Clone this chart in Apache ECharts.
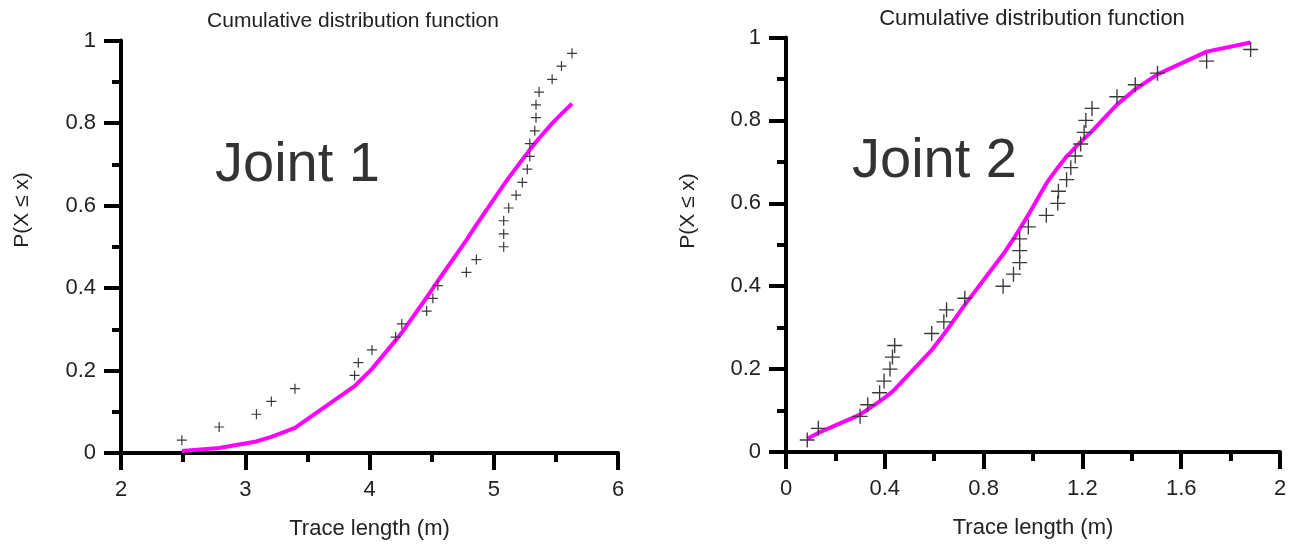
<!DOCTYPE html>
<html>
<head>
<meta charset="utf-8">
<script src="https://cdn.jsdelivr.net/npm/echarts@6/dist/echarts.min.js"></script>
<style>
  html, body { margin: 0; padding: 0; background: #fff; }
  #chart { width: 1296px; height: 547px; }
</style>
</head>
<body>
<div id="chart"></div>
<script>
// Joint 1: observed trace lengths (m) and their empirical CDF
const joint1Length = [2.49, 2.79, 3.09, 3.21, 3.40, 3.88, 3.91, 4.02, 4.21, 4.26, 4.46, 4.51, 4.55, 4.78, 4.86,
  5.08, 5.08, 5.08, 5.12, 5.18, 5.23, 5.27, 5.29, 5.29, 5.33, 5.34, 5.34, 5.365, 5.47, 5.545, 5.63];
const joint1Empirical = [0.031, 0.063, 0.094, 0.125, 0.156, 0.188, 0.219, 0.25, 0.281, 0.313, 0.344, 0.375, 0.406, 0.438, 0.469,
  0.5, 0.531, 0.563, 0.594, 0.625, 0.656, 0.688, 0.719, 0.75, 0.781, 0.813, 0.844, 0.875, 0.906, 0.938, 0.969];
// Joint 1: fitted CDF evaluated at the same lengths
const joint1Fitted = [0.005, 0.012, 0.028, 0.039, 0.061, 0.162, 0.171, 0.204, 0.273, 0.292, 0.377, 0.399, 0.417, 0.516, 0.553,
  0.650, 0.650, 0.650, 0.667, 0.691, 0.711, 0.727, 0.735, 0.735, 0.750, 0.754, 0.754, 0.763, 0.799, 0.822, 0.847];

// Joint 2: observed trace lengths (m) and their empirical CDF
const joint2Length = [0.086, 0.131, 0.30, 0.331, 0.379, 0.397, 0.421, 0.431, 0.44, 0.59, 0.639, 0.65, 0.724, 0.879, 0.921,
  0.946, 0.946, 0.946, 0.981, 1.054, 1.10, 1.103, 1.136, 1.153, 1.171, 1.193, 1.207, 1.214, 1.239, 1.34, 1.414, 1.504, 1.703, 1.881];
const joint2Empirical = [0.029, 0.057, 0.086, 0.114, 0.143, 0.171, 0.2, 0.229, 0.257, 0.286, 0.314, 0.343, 0.371, 0.4, 0.429,
  0.457, 0.486, 0.514, 0.543, 0.571, 0.6, 0.629, 0.657, 0.686, 0.714, 0.743, 0.771, 0.8, 0.829, 0.857, 0.886, 0.914, 0.943, 0.971];
// Joint 2: fitted CDF evaluated at the same lengths
const joint2Fitted = [0.032, 0.046, 0.090, 0.103, 0.122, 0.130, 0.141, 0.146, 0.151, 0.246, 0.284, 0.293, 0.355, 0.477, 0.514,
  0.538, 0.538, 0.538, 0.572, 0.648, 0.686, 0.688, 0.713, 0.723, 0.735, 0.748, 0.756, 0.760, 0.774, 0.838, 0.875, 0.911, 0.966, 0.988];

// Axis ranges and labels
const joint1XRange = { min: 2, max: 6, interval: 1 };
const joint2XRange = { min: 0, max: 2, interval: 0.4 };
const probRange = { min: 0, max: 1, interval: 0.2 };
const titleText = 'Cumulative distribution function';
const xName = 'Trace length (m)';
const yName = 'P(X \u2264 x)';
const panelNames = ['Joint 1', 'Joint 2'];

const FONT = '"Liberation Sans", Arial, sans-serif';
const INK = '#000';
const TEXT = '#222';
const AXIS_W = 4;

function zip(xs, ys) { return xs.map((x, i) => [x, ys[i]]); }

function xAxis(gridIndex, range) {
  return {
    type: 'value', gridIndex, min: range.min, max: range.max, interval: range.interval,
    axisLine: { show: true, onZero: false, lineStyle: { color: INK, width: AXIS_W } },
    axisTick: { show: true, length: 17, lineStyle: { color: INK, width: AXIS_W } },
    minorTick: { show: true, splitNumber: 2, length: 9, lineStyle: { color: INK, width: AXIS_W } },
    splitLine: { show: false },
    axisLabel: { fontSize: 22, color: TEXT, margin: 26, fontFamily: FONT },
    name: xName, nameLocation: 'middle', nameGap: 65,
    nameTextStyle: { fontSize: 22, color: TEXT, fontFamily: FONT }
  };
}

function yAxis(gridIndex) {
  return {
    type: 'value', gridIndex, min: probRange.min, max: probRange.max, interval: probRange.interval,
    axisLine: { show: true, onZero: false, lineStyle: { color: INK, width: AXIS_W } },
    axisTick: { show: true, length: 17, lineStyle: { color: INK, width: AXIS_W } },
    minorTick: { show: true, splitNumber: 2, length: 9, lineStyle: { color: INK, width: AXIS_W } },
    splitLine: { show: false },
    axisLabel: { fontSize: 22, color: TEXT, margin: 25, fontFamily: FONT }
  };
}

// plus-sign marker drawn as two thin bars
const plusSmall = 'path://M4.4,0H5.6V10H4.4Z M0,4.4H10V5.6H0Z';
const plusLarge = 'path://M4.55,0H5.45V10H4.55Z M0,4.55H10V5.45H0Z';

function fitLine(idx, data) {
  return {
    type: 'line', xAxisIndex: idx, yAxisIndex: idx, data, showSymbol: false, smooth: false,
    lineStyle: { color: '#ff00ff', width: 4 }, z: 2
  };
}
function points(idx, data, symbol, size) {
  return {
    type: 'scatter', xAxisIndex: idx, yAxisIndex: idx, data, symbol, symbolSize: size,
    itemStyle: { color: '#3a3a3a', opacity: 1 }, z: 3
  };
}

const chart = echarts.init(document.getElementById('chart'), null, { renderer: 'canvas' });
chart.setOption({
  animation: false,
  backgroundColor: '#fff',
  grid: [
    { left: 121, top: 40.5, width: 497, height: 412.5 },
    { left: 786, top: 37.5, width: 494, height: 414.5 }
  ],
  xAxis: [xAxis(0, joint1XRange), xAxis(1, joint2XRange)],
  yAxis: [yAxis(0), yAxis(1)],
  series: [
    fitLine(0, zip(joint1Length, joint1Fitted)),
    points(0, zip(joint1Length, joint1Empirical), plusSmall, 10),
    fitLine(1, zip(joint2Length, joint2Fitted)),
    points(1, zip(joint2Length, joint2Empirical), plusLarge, 15)
  ],
  graphic: [
    { type: 'text', x: 353, y: 21, style: { text: titleText, align: 'center', verticalAlign: 'middle', font: '21px ' + FONT, fill: TEXT } },
    { type: 'text', x: 1032, y: 19, style: { text: titleText, align: 'center', verticalAlign: 'middle', font: '22px ' + FONT, fill: TEXT } },
    { type: 'text', x: 215, y: 166, style: { text: panelNames[0], align: 'left', verticalAlign: 'middle', font: '56px ' + FONT, fill: '#333' } },
    { type: 'text', x: 852, y: 162, style: { text: panelNames[1], align: 'left', verticalAlign: 'middle', font: '56px ' + FONT, fill: '#333' } },
    { type: 'text', x: 22, y: 210, rotation: Math.PI / 2, style: { text: yName, align: 'center', verticalAlign: 'middle', font: '21px ' + FONT, fill: TEXT } },
    { type: 'text', x: 688, y: 211, rotation: Math.PI / 2, style: { text: yName, align: 'center', verticalAlign: 'middle', font: '21px ' + FONT, fill: TEXT } }
  ]
});
</script>
</body>
</html>
